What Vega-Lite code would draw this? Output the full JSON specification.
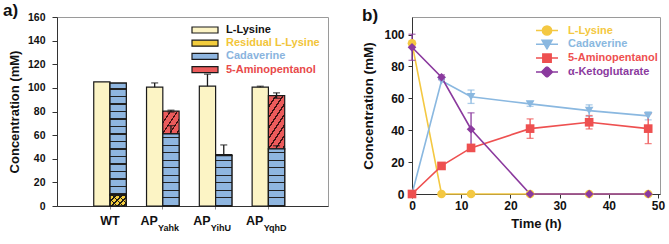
{
  "$schema": "https://vega.github.io/schema/vega-lite/v6.json",
  "background": "white",
  "padding": {"left": 2, "top": 1, "right": 6, "bottom": 2},
  "config": {
    "font": "Liberation Sans",
    "view": {"stroke": "#9a9a9a", "strokeWidth": 1},
    "axis": {
      "grid": false,
      "labelFont": "Liberation Sans",
      "labelFontWeight": "bold",
      "labelColor": "#111111",
      "labelOverlap": false,
      "titleFont": "Liberation Sans",
      "titleFontWeight": "bold",
      "titleColor": "#111111",
      "domainColor": "#333333",
      "tickColor": "#333333"
    },
    "legend": {
      "labelFont": "Liberation Sans",
      "labelFontWeight": "bold",
      "labelFontSize": 11,
      "padding": 0
    }
  },
  "params": [
    {"name": "hStops", "value": [
      {"offset": 0, "color": "#222222"}, {"offset": 0.011, "color": "#222222"}, {"offset": 0.011, "color": "#8fb6e0"}, {"offset": 0.0625, "color": "#8fb6e0"},
      {"offset": 0.0625, "color": "#222222"}, {"offset": 0.0735, "color": "#222222"}, {"offset": 0.0735, "color": "#8fb6e0"}, {"offset": 0.125, "color": "#8fb6e0"},
      {"offset": 0.125, "color": "#222222"}, {"offset": 0.136, "color": "#222222"}, {"offset": 0.136, "color": "#8fb6e0"}, {"offset": 0.1875, "color": "#8fb6e0"},
      {"offset": 0.1875, "color": "#222222"}, {"offset": 0.1985, "color": "#222222"}, {"offset": 0.1985, "color": "#8fb6e0"}, {"offset": 0.25, "color": "#8fb6e0"},
      {"offset": 0.25, "color": "#222222"}, {"offset": 0.261, "color": "#222222"}, {"offset": 0.261, "color": "#8fb6e0"}, {"offset": 0.3125, "color": "#8fb6e0"},
      {"offset": 0.3125, "color": "#222222"}, {"offset": 0.3235, "color": "#222222"}, {"offset": 0.3235, "color": "#8fb6e0"}, {"offset": 0.375, "color": "#8fb6e0"},
      {"offset": 0.375, "color": "#222222"}, {"offset": 0.386, "color": "#222222"}, {"offset": 0.386, "color": "#8fb6e0"}, {"offset": 0.4375, "color": "#8fb6e0"},
      {"offset": 0.4375, "color": "#222222"}, {"offset": 0.4485, "color": "#222222"}, {"offset": 0.4485, "color": "#8fb6e0"}, {"offset": 0.5, "color": "#8fb6e0"},
      {"offset": 0.5, "color": "#222222"}, {"offset": 0.511, "color": "#222222"}, {"offset": 0.511, "color": "#8fb6e0"}, {"offset": 0.5625, "color": "#8fb6e0"},
      {"offset": 0.5625, "color": "#222222"}, {"offset": 0.5735, "color": "#222222"}, {"offset": 0.5735, "color": "#8fb6e0"}, {"offset": 0.625, "color": "#8fb6e0"},
      {"offset": 0.625, "color": "#222222"}, {"offset": 0.636, "color": "#222222"}, {"offset": 0.636, "color": "#8fb6e0"}, {"offset": 0.6875, "color": "#8fb6e0"},
      {"offset": 0.6875, "color": "#222222"}, {"offset": 0.6985, "color": "#222222"}, {"offset": 0.6985, "color": "#8fb6e0"}, {"offset": 0.75, "color": "#8fb6e0"},
      {"offset": 0.75, "color": "#222222"}, {"offset": 0.761, "color": "#222222"}, {"offset": 0.761, "color": "#8fb6e0"}, {"offset": 0.8125, "color": "#8fb6e0"},
      {"offset": 0.8125, "color": "#222222"}, {"offset": 0.8235, "color": "#222222"}, {"offset": 0.8235, "color": "#8fb6e0"}, {"offset": 0.875, "color": "#8fb6e0"},
      {"offset": 0.875, "color": "#222222"}, {"offset": 0.886, "color": "#222222"}, {"offset": 0.886, "color": "#8fb6e0"}, {"offset": 0.9375, "color": "#8fb6e0"},
      {"offset": 0.9375, "color": "#222222"}, {"offset": 0.9485, "color": "#222222"}, {"offset": 0.9485, "color": "#8fb6e0"}, {"offset": 1, "color": "#8fb6e0"}
    ]},
    {"name": "rStops", "value": [
      {"offset": 0, "color": "#3d1212"}, {"offset": 0.022, "color": "#3d1212"}, {"offset": 0.022, "color": "#ec5b5b"}, {"offset": 0.1, "color": "#ec5b5b"},
      {"offset": 0.1, "color": "#3d1212"}, {"offset": 0.122, "color": "#3d1212"}, {"offset": 0.122, "color": "#ec5b5b"}, {"offset": 0.2, "color": "#ec5b5b"},
      {"offset": 0.2, "color": "#3d1212"}, {"offset": 0.222, "color": "#3d1212"}, {"offset": 0.222, "color": "#ec5b5b"}, {"offset": 0.3, "color": "#ec5b5b"},
      {"offset": 0.3, "color": "#3d1212"}, {"offset": 0.322, "color": "#3d1212"}, {"offset": 0.322, "color": "#ec5b5b"}, {"offset": 0.4, "color": "#ec5b5b"},
      {"offset": 0.4, "color": "#3d1212"}, {"offset": 0.422, "color": "#3d1212"}, {"offset": 0.422, "color": "#ec5b5b"}, {"offset": 0.5, "color": "#ec5b5b"},
      {"offset": 0.5, "color": "#3d1212"}, {"offset": 0.522, "color": "#3d1212"}, {"offset": 0.522, "color": "#ec5b5b"}, {"offset": 0.6, "color": "#ec5b5b"},
      {"offset": 0.6, "color": "#3d1212"}, {"offset": 0.622, "color": "#3d1212"}, {"offset": 0.622, "color": "#ec5b5b"}, {"offset": 0.7, "color": "#ec5b5b"},
      {"offset": 0.7, "color": "#3d1212"}, {"offset": 0.722, "color": "#3d1212"}, {"offset": 0.722, "color": "#ec5b5b"}, {"offset": 0.8, "color": "#ec5b5b"},
      {"offset": 0.8, "color": "#3d1212"}, {"offset": 0.822, "color": "#3d1212"}, {"offset": 0.822, "color": "#ec5b5b"}, {"offset": 0.9, "color": "#ec5b5b"},
      {"offset": 0.9, "color": "#3d1212"}, {"offset": 0.922, "color": "#3d1212"}, {"offset": 0.922, "color": "#ec5b5b"}, {"offset": 1, "color": "#ec5b5b"}
    ]},
    {"name": "yStops", "value": [
      {"offset": 0, "color": "#1a1a1a"}, {"offset": 0.045, "color": "#1a1a1a"}, {"offset": 0.045, "color": "#f3cd3d"}, {"offset": 0.1667, "color": "#f3cd3d"},
      {"offset": 0.1667, "color": "#1a1a1a"}, {"offset": 0.2117, "color": "#1a1a1a"}, {"offset": 0.2117, "color": "#f3cd3d"}, {"offset": 0.3333, "color": "#f3cd3d"},
      {"offset": 0.3333, "color": "#1a1a1a"}, {"offset": 0.3783, "color": "#1a1a1a"}, {"offset": 0.3783, "color": "#f3cd3d"}, {"offset": 0.5, "color": "#f3cd3d"},
      {"offset": 0.5, "color": "#1a1a1a"}, {"offset": 0.545, "color": "#1a1a1a"}, {"offset": 0.545, "color": "#f3cd3d"}, {"offset": 0.6667, "color": "#f3cd3d"},
      {"offset": 0.6667, "color": "#1a1a1a"}, {"offset": 0.7117, "color": "#1a1a1a"}, {"offset": 0.7117, "color": "#f3cd3d"}, {"offset": 0.8333, "color": "#f3cd3d"},
      {"offset": 0.8333, "color": "#1a1a1a"}, {"offset": 0.8783, "color": "#1a1a1a"}, {"offset": 0.8783, "color": "#f3cd3d"}, {"offset": 1, "color": "#f3cd3d"}
    ]},
    {"name": "xStops", "value": [
      {"offset": 0, "color": "#1a1a1a"}, {"offset": 0.045, "color": "#1a1a1a"}, {"offset": 0.045, "color": "rgba(0,0,0,0)"}, {"offset": 0.1667, "color": "rgba(0,0,0,0)"},
      {"offset": 0.1667, "color": "#1a1a1a"}, {"offset": 0.2117, "color": "#1a1a1a"}, {"offset": 0.2117, "color": "rgba(0,0,0,0)"}, {"offset": 0.3333, "color": "rgba(0,0,0,0)"},
      {"offset": 0.3333, "color": "#1a1a1a"}, {"offset": 0.3783, "color": "#1a1a1a"}, {"offset": 0.3783, "color": "rgba(0,0,0,0)"}, {"offset": 0.5, "color": "rgba(0,0,0,0)"},
      {"offset": 0.5, "color": "#1a1a1a"}, {"offset": 0.545, "color": "#1a1a1a"}, {"offset": 0.545, "color": "rgba(0,0,0,0)"}, {"offset": 0.6667, "color": "rgba(0,0,0,0)"},
      {"offset": 0.6667, "color": "#1a1a1a"}, {"offset": 0.7117, "color": "#1a1a1a"}, {"offset": 0.7117, "color": "rgba(0,0,0,0)"}, {"offset": 0.8333, "color": "rgba(0,0,0,0)"},
      {"offset": 0.8333, "color": "#1a1a1a"}, {"offset": 0.8783, "color": "#1a1a1a"}, {"offset": 0.8783, "color": "rgba(0,0,0,0)"}, {"offset": 1, "color": "rgba(0,0,0,0)"}
    ]}
  ],
  "datasets": {
    "strains": [
      {"strain": "WT", "stage": "fed", "series": "L-Lysine", "value": 105, "err": 0},
      {"strain": "WT", "stage": "after", "series": "Residual L-Lysine", "value": 9.5, "err": 0},
      {"strain": "WT", "stage": "after", "series": "Cadaverine", "value": 94.5, "err": 0},
      {"strain": "AP_Yahk", "stage": "fed", "series": "L-Lysine", "value": 100.6, "err": 3.6},
      {"strain": "AP_Yahk", "stage": "after", "series": "Cadaverine", "value": 61, "err": 7},
      {"strain": "AP_Yahk", "stage": "after", "series": "5-Aminopentanol", "value": 19.3, "err": 0.8},
      {"strain": "AP_YihU", "stage": "fed", "series": "L-Lysine", "value": 101.4, "err": 10.2},
      {"strain": "AP_YihU", "stage": "after", "series": "Cadaverine", "value": 42.7, "err": 9},
      {"strain": "AP_YihU", "stage": "after", "series": "5-Aminopentanol", "value": 0.8, "err": 0},
      {"strain": "AP_YqhD", "stage": "fed", "series": "L-Lysine", "value": 100.6, "err": 0.8},
      {"strain": "AP_YqhD", "stage": "after", "series": "Cadaverine", "value": 48.4, "err": 2.6},
      {"strain": "AP_YqhD", "stage": "after", "series": "5-Aminopentanol", "value": 45.1, "err": 2.3}
    ],
    "timecourse": [
      {"compound": "L-Lysine", "time": 0, "conc": 94.5, "err": 0},
      {"compound": "L-Lysine", "time": 6, "conc": 0, "err": 0},
      {"compound": "L-Lysine", "time": 12, "conc": 0, "err": 0},
      {"compound": "L-Lysine", "time": 24, "conc": 0, "err": 0},
      {"compound": "L-Lysine", "time": 36, "conc": 0, "err": 0},
      {"compound": "L-Lysine", "time": 48, "conc": 0, "err": 0},
      {"compound": "Cadaverine", "time": 0, "conc": 0, "err": 0},
      {"compound": "Cadaverine", "time": 6, "conc": 71, "err": 0},
      {"compound": "Cadaverine", "time": 12, "conc": 61, "err": 4.2},
      {"compound": "Cadaverine", "time": 24, "conc": 56.5, "err": 1.5},
      {"compound": "Cadaverine", "time": 36, "conc": 52.3, "err": 3.6},
      {"compound": "Cadaverine", "time": 48, "conc": 49, "err": 2.5},
      {"compound": "5-Aminopentanol", "time": 0, "conc": 0, "err": 0},
      {"compound": "5-Aminopentanol", "time": 6, "conc": 17.6, "err": 0},
      {"compound": "5-Aminopentanol", "time": 12, "conc": 28.9, "err": 1.5},
      {"compound": "5-Aminopentanol", "time": 24, "conc": 41, "err": 6.1},
      {"compound": "5-Aminopentanol", "time": 36, "conc": 45, "err": 4.2},
      {"compound": "5-Aminopentanol", "time": 48, "conc": 41, "err": 9.4},
      {"compound": "α-Ketoglutarate", "time": 0, "conc": 92, "err": 8.2},
      {"compound": "α-Ketoglutarate", "time": 6, "conc": 73.2, "err": 1.5},
      {"compound": "α-Ketoglutarate", "time": 12, "conc": 40.6, "err": 10.3},
      {"compound": "α-Ketoglutarate", "time": 24, "conc": 0, "err": 0},
      {"compound": "α-Ketoglutarate", "time": 36, "conc": 0, "err": 0},
      {"compound": "α-Ketoglutarate", "time": 48, "conc": 0, "err": 0}
    ]
  },
  "bounds": "flush",
  "spacing": 84,
  "hconcat": [
    {
      "title": {"text": "a)", "anchor": "start", "frame": "group", "fontSize": 17, "fontWeight": "bold", "color": "#111111", "dx": -54, "offset": -8},
      "width": 271,
      "height": 189,
      "data": {"name": "strains"},
      "transform": [
        {"stack": "value", "groupby": ["strain", "stage"], "sort": [{"field": "series", "order": "descending"}], "as": ["v0", "v1"]}
      ],
      "encoding": {
        "x": {
          "field": "strain", "type": "nominal",
          "sort": ["WT", "AP_Yahk", "AP_YihU", "AP_YqhD"],
          "scale": {"paddingInner": 0.383, "paddingOuter": 0.758, "align": 0.459},
          "axis": {
            "title": null,
            "labelExpr": "split(datum.label, '_')[0]",
            "labelAngle": 0,
            "labelFontSize": 12.5,
            "labelBaseline": "alphabetic",
            "labelPadding": 15,
            "tickSize": 3,
            "tickColor": "#888888",
            "labelAlign": {"condition": {"test": "indexof(datum.value, '_') > 0", "value": "right"}, "value": "center"},
            "labelOffset": {"condition": {"test": "indexof(datum.value, '_') > 0", "value": -5}, "value": 0}
          }
        },
        "xOffset": {"field": "stage", "type": "nominal", "sort": ["fed", "after"], "scale": {"paddingInner": 0, "paddingOuter": 0}}
      },
      "layer": [
        {
          "transform": [{"filter": "datum.stage === 'fed' && datum.err > 0"}],
          "mark": {"type": "errorbar", "ticks": {"size": 7, "thickness": 1.3, "color": "#1a1a1a"}, "rule": {"strokeWidth": 1.3, "color": "#1a1a1a"}},
          "encoding": {
            "y": {
              "field": "v1", "type": "quantitative",
              "scale": {"domain": [0, 160], "nice": false},
              "axis": {"values": [0, 20, 40, 60, 80, 100, 120, 140, 160], "labelOverlap": false, "title": "Concentration (mM)", "labelFontSize": 10.5, "titleFontSize": 13, "tickSize": 5, "labelPadding": 7, "titlePadding": 6}
            },
            "yError": {"field": "err"}
          }
        },
        {
          "mark": {
            "type": "bar",
            "stroke": "#1a1a1a",
            "strokeWidth": 1.2,
            "fill": {"expr": "datum.series === 'Cadaverine' ? {gradient: 'linear', x1: 0, y1: 1, x2: 0, y2: 1 - 101.6 / datum.value, stops: hStops} : datum.series === '5-Aminopentanol' ? {gradient: 'linear', x1: 0, y1: 0, x2: 2567 / (597.8 + pow(1.183 * datum.value, 2)), y2: 124.2 * datum.value / (597.8 + pow(1.183 * datum.value, 2)), stops: rStops} : datum.series === 'Residual L-Lysine' ? {gradient: 'linear', x1: 0, y1: 0, x2: 586.8 / (265.7 + pow(1.183 * datum.value, 2)), y2: 42.6 * datum.value / (265.7 + pow(1.183 * datum.value, 2)), stops: yStops} : '#fcf4c5'"}
          },
          "encoding": {
            "y": {
              "field": "v0", "type": "quantitative",
              "scale": {"domain": [0, 160], "nice": false},
              "axis": {"values": [0, 20, 40, 60, 80, 100, 120, 140, 160], "labelOverlap": false, "title": "Concentration (mM)", "labelFontSize": 10.5, "titleFontSize": 13, "tickSize": 5, "labelPadding": 7, "titlePadding": 6}
            },
            "y2": {"field": "v1"}
          }
        },
        {
          "transform": [{"filter": "datum.series === 'Residual L-Lysine'"}],
          "mark": {
            "type": "bar",
            "stroke": "#1a1a1a",
            "strokeWidth": 1.2,
            "fill": {"expr": "{gradient: 'linear', x1: 0, y1: 1, x2: 586.8 / (265.7 + pow(1.183 * datum.value, 2)), y2: 1 - 42.6 * datum.value / (265.7 + pow(1.183 * datum.value, 2)), stops: xStops}"}
          },
          "encoding": {
            "y": {
              "field": "v0", "type": "quantitative",
              "axis": {"values": [0, 20, 40, 60, 80, 100, 120, 140, 160], "labelOverlap": false, "title": "Concentration (mM)", "labelFontSize": 10.5, "titleFontSize": 13, "tickSize": 5, "labelPadding": 7, "titlePadding": 6}
            },
            "y2": {"field": "v1"}
          }
        },
        {
          "transform": [{"filter": "datum.stage === 'after' && datum.err > 0"}],
          "mark": {"type": "errorbar", "ticks": {"size": 7, "thickness": 1.3, "color": "#1a1a1a"}, "rule": {"strokeWidth": 1.3, "color": "#1a1a1a"}},
          "encoding": {
            "y": {
              "field": "v1", "type": "quantitative",
              "axis": {"values": [0, 20, 40, 60, 80, 100, 120, 140, 160], "labelOverlap": false, "title": "Concentration (mM)", "labelFontSize": 10.5, "titleFontSize": 13, "tickSize": 5, "labelPadding": 7, "titlePadding": 6}
            },
            "yError": {"field": "err"}
          }
        },
        {
          "transform": [{"filter": "datum.series === 'Cadaverine'"}],
          "mark": {
            "type": "bar",
            "stroke": "#1a1a1a",
            "strokeWidth": 1.2,
            "fill": {"expr": "{gradient: 'linear', x1: 0, y1: 1, x2: 0, y2: 1 - 101.6 / datum.value, stops: hStops}"}
          },
          "encoding": {
            "y": {
              "field": "v0", "type": "quantitative",
              "axis": {"values": [0, 20, 40, 60, 80, 100, 120, 140, 160], "labelOverlap": false, "title": "Concentration (mM)", "labelFontSize": 10.5, "titleFontSize": 13, "tickSize": 5, "labelPadding": 7, "titlePadding": 6}
            },
            "y2": {"field": "v1"}
          }
        },
        {
          "transform": [
            {"filter": "datum.stage === 'fed'"},
            {"calculate": "indexof(datum.strain, '_') > 0 ? substring(datum.strain, indexof(datum.strain, '_') + 1) : ''", "as": "sub"}
          ],
          "mark": {"type": "text", "align": "left", "baseline": "alphabetic", "dx": 3.4, "dy": 24.5, "fontSize": 9, "fontWeight": "bold", "font": "Liberation Sans", "color": "#111111"},
          "encoding": {
            "y": {
              "datum": 0, "type": "quantitative",
              "axis": {"values": [0, 20, 40, 60, 80, 100, 120, 140, 160], "labelOverlap": false, "title": "Concentration (mM)", "labelFontSize": 10.5, "titleFontSize": 13, "tickSize": 5, "labelPadding": 7, "titlePadding": 6}
            },
            "text": {"field": "sub"}
          }
        },
        {
          "transform": [{"filter": "false"}],
          "mark": {"type": "point", "filled": true},
          "encoding": {
            "fill": {
              "field": "series", "type": "nominal",
              "scale": {"domain": ["L-Lysine", "Residual L-Lysine", "Cadaverine", "5-Aminopentanol"], "range": ["#fcf4c5", "#f3cd3d", "#8fb6e0", "#ec5b5b"]},
              "legend": {
                "title": null,
                "orient": "none",
                "legendX": 134,
                "legendY": 8,
                "symbolType": "M-1,-0.23H1V0.23H-1Z",
                "symbolSize": 676,
                "symbolStrokeColor": "#1a1a1a",
                "symbolStrokeWidth": 1.2,
                "symbolOpacity": 1,
                "clipHeight": 10,
                "labelOffset": 7,
                "rowPadding": 2.2,
                "encoding": {
                  "symbols": {
                    "fill": {"value": {"expr": "datum.value === 'Cadaverine' ? '#8fb6e0' : datum.value === '5-Aminopentanol' ? {gradient: 'linear', x1: 0, y1: 0, x2: 2.63, y2: 0.405, stops: rStops} : datum.value === 'Residual L-Lysine' ? {gradient: 'linear', x1: 0, y1: 0, x2: 1.315, y2: 0.303, stops: yStops} : '#fcf4c5'"}},
                    "stroke": {"value": "#1a1a1a"},
                    "opacity": {"value": 1}
                  },
                  "labels": {
                    "fill": {"value": {"expr": "datum.value === 'Residual L-Lysine' ? '#f2c53a' : datum.value === 'Cadaverine' ? '#8ab4de' : datum.value === '5-Aminopentanol' ? '#e84a4a' : '#111111'"}}
                  }
                }
              }
            }
          }
        }
      ]
    },
    {
      "title": {"text": "b)", "anchor": "start", "frame": "group", "fontSize": 17, "fontWeight": "bold", "color": "#111111", "dx": -50, "offset": -8},
      "width": 248,
      "height": 177,
      "data": {"name": "timecourse"},
      "encoding": {
        "x": {
          "field": "time", "type": "quantitative",
          "scale": {"domain": [0, 50.4], "nice": false},
          "axis": {"values": [0, 10, 20, 30, 40, 50], "title": "Time (h)", "labelFontSize": 12, "titleFontSize": 13, "tickSize": 4, "labelPadding": 2, "titlePadding": 6, "labelFlush": false}
        },
        "y": {
          "field": "conc", "type": "quantitative",
          "scale": {"domain": [0, 111], "nice": false},
          "axis": {"values": [0, 20, 40, 60, 80, 100], "title": "Concentration (mM)", "labelFontSize": 12, "titleFontSize": 13.5, "tickSize": 4, "labelPadding": 4, "titlePadding": 8}
        },
        "color": {
          "field": "compound", "type": "nominal",
          "scale": {"domain": ["L-Lysine", "Cadaverine", "5-Aminopentanol", "α-Ketoglutarate"], "range": ["#f4c842", "#8ab8e0", "#ee5050", "#8b3a9e"]},
          "legend": {
            "title": null,
            "orient": "none",
            "legendX": 478,
            "legendY": 8,
            "symbolType": "M-1,0H1M0.42,0A0.42,0.42,0,1,1,-0.42,0A0.42,0.42,0,1,1,0.42,0Z",
            "symbolSize": 484,
            "symbolStrokeWidth": 1.5,
            "clipHeight": 11,
            "labelOffset": 9,
            "rowPadding": 1.8,
            "encoding": {
              "symbols": {
                "shape": {"value": {"expr": "datum.value === 'L-Lysine' ? 'M-1,0H1M0.42,0A0.42,0.42,0,1,1,-0.42,0A0.42,0.42,0,1,1,0.42,0Z' : datum.value === 'Cadaverine' ? 'M-1,0H1M-0.45,-0.36L0.45,-0.36L0,0.42Z' : datum.value === '5-Aminopentanol' ? 'M-1,0H1M-0.38,-0.38H0.38V0.38H-0.38Z' : 'M-1,0H1M0,-0.5L0.5,0L0,0.5L-0.5,0Z'"}},
                "fill": {"value": {"expr": "datum.value === 'L-Lysine' ? '#f4c842' : datum.value === 'Cadaverine' ? '#8ab8e0' : datum.value === '5-Aminopentanol' ? '#ee5050' : '#8b3a9e'"}},
                "stroke": {"value": {"expr": "datum.value === 'L-Lysine' ? '#f4c842' : datum.value === 'Cadaverine' ? '#8ab8e0' : datum.value === '5-Aminopentanol' ? '#ee5050' : '#8b3a9e'"}},
                "opacity": {"value": 1}
              },
              "labels": {
                "fill": {"value": {"expr": "datum.value === 'L-Lysine' ? '#f4c842' : datum.value === 'Cadaverine' ? '#8ab8e0' : datum.value === '5-Aminopentanol' ? '#ee5050' : '#8b3a9e'"}}
              }
            }
          }
        }
      },
      "layer": [
        {"mark": {"type": "line", "strokeWidth": 1.6}},
        {
          "transform": [{"filter": "datum.err > 0"}],
          "mark": {"type": "errorbar", "ticks": {"size": 7, "thickness": 1.3}, "rule": {"strokeWidth": 1.3}},
          "encoding": {"yError": {"field": "err"}}
        },
        {
          "mark": {
            "type": "point", "filled": true, "opacity": 1, "size": 75,
            "shape": {"expr": "datum.compound === 'L-Lysine' ? 'circle' : datum.compound === 'Cadaverine' ? 'triangle-down' : datum.compound === '5-Aminopentanol' ? 'square' : 'diamond'"}
          }
        }
      ]
    }
  ]
}
